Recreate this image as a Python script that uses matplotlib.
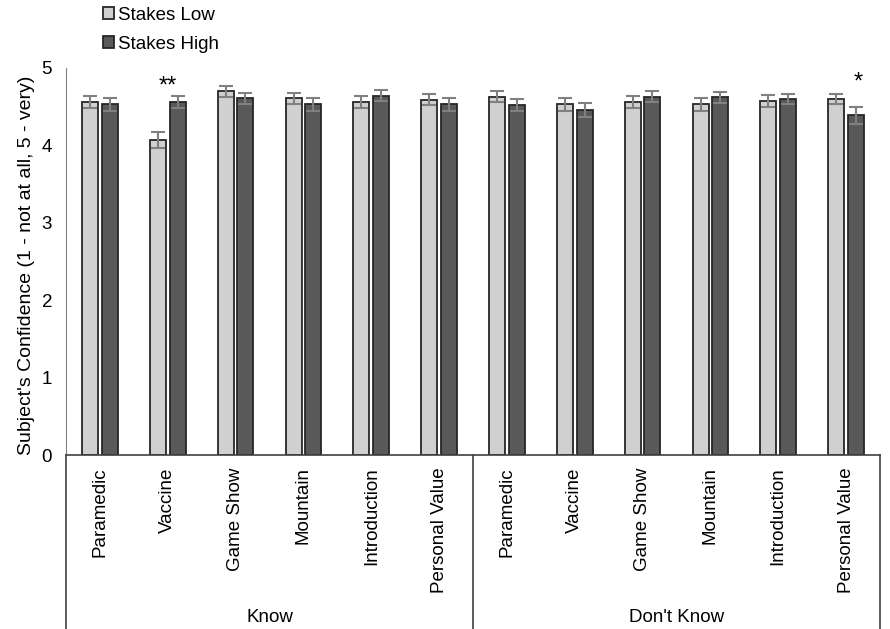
import numpy as np
import matplotlib.pyplot as plt
import matplotlib.transforms as mtransforms

plt.rcParams['font.family'] = ['Liberation Sans', 'DejaVu Sans']
plt.rcParams['font.size'] = 13.5

# data
scenarios = ['Paramedic', 'Vaccine', 'Game Show', 'Mountain', 'Introduction', 'Personal Value']
groups = ['Know', "Don't Know"]
low_know = [4.56, 4.07, 4.70, 4.61, 4.56, 4.59]
high_know = [4.53, 4.56, 4.61, 4.53, 4.64, 4.53]
low_dk = [4.63, 4.53, 4.56, 4.53, 4.57, 4.60]
high_dk = [4.52, 4.46, 4.63, 4.62, 4.60, 4.39]
err_low_know = [0.08, 0.10, 0.07, 0.07, 0.08, 0.07]
err_high_know = [0.08, 0.08, 0.07, 0.08, 0.07, 0.08]
err_low_dk = [0.07, 0.08, 0.08, 0.08, 0.08, 0.07]
err_high_dk = [0.08, 0.09, 0.07, 0.07, 0.07, 0.11]
stars = {1: '**', 11: '*'}

low = np.array(low_know + low_dk)
high = np.array(high_know + high_dk)
err_low = np.array(err_low_know + err_low_dk)
err_high = np.array(err_high_know + err_high_dk)
labels = scenarios + scenarios
x = np.arange(len(labels))

fig = plt.figure(figsize=(8.9, 6.29), dpi=100)
ax = fig.add_axes([66 / 890, 1 - 455 / 629, 814 / 890, 387 / 629])

w = 0.235
off = 0.145
ek = dict(ecolor='#808080', elinewidth=1.5, capsize=5, capthick=1.5)
ax.bar(x - off, low, w, yerr=err_low, color='#d0d0d0', edgecolor='#262626',
       linewidth=1.3, error_kw=ek, label='Stakes Low')
ax.bar(x + off, high, w, yerr=err_high, color='#595959', edgecolor='#262626',
       linewidth=1.3, error_kw=ek, label='Stakes High')

# significance markers
ax.text(x[1], 4.76, stars[1], ha='center', va='center', fontsize=17)
ax.text(x[11] + 0.18, 4.81, stars[11], ha='center', va='center', fontsize=17)

ax.set_xlim(-0.5, len(labels) - 0.5)
ax.set_ylim(0, 5)
ax.set_yticks(range(6))
ax.set_xticks(x)
ax.set_xticklabels(labels, rotation=90)
ax.tick_params(axis='both', length=0, colors='#000000')
ax.tick_params(axis='y', pad=10)
ax.tick_params(axis='x', pad=9)
for side in ['top', 'right']:
    ax.spines[side].set_visible(False)
ax.spines['left'].set_color('#808080')
ax.spines['bottom'].set_color('#404040')
ax.spines['bottom'].set_linewidth(1.2)

ax.set_ylabel("Subject's Confidence (1 - not at all, 5 - very)", fontsize=14)
ax.yaxis.set_label_coords(-31 / 814, 0.49)

# group dividers and labels under the axis
trans = mtransforms.blended_transform_factory(ax.transData, ax.transAxes)
depth = -(629 - 455) / 387
for xv in [-0.5, 5.5, 11.5]:
    ax.plot([xv, xv], [0, depth], transform=trans, color='#404040',
            linewidth=1.2, clip_on=False)
for gi, g in enumerate(groups):
    ax.text(gi * 6 + 2.5, -(618 - 455) / 387, g, transform=trans,
            ha='center', va='center')

fig.legend(loc='upper left', bbox_to_anchor=(90 / 890, 1.01), frameon=False,
           handlelength=0.6, handleheight=0.6, handletextpad=0.2,
           labelspacing=0.65, borderpad=0.2)

fig.savefig('out.png', dpi=100)
